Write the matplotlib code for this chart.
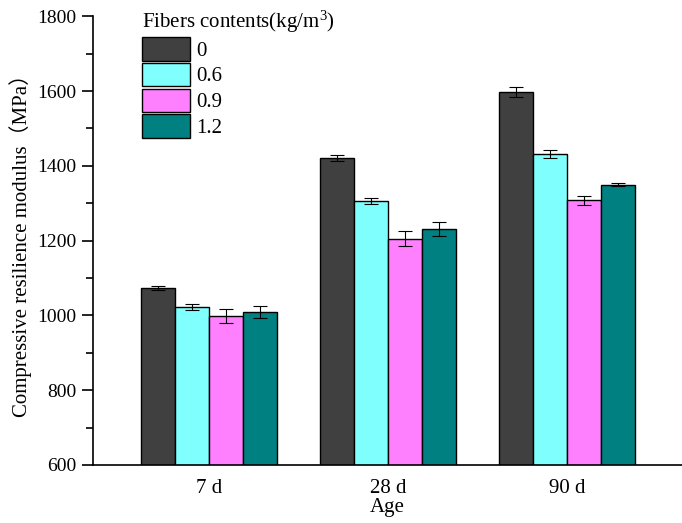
import numpy as np
import matplotlib.pyplot as plt
from matplotlib.ticker import MultipleLocator

ages = ["7 d", "28 d", "90 d"]
contents = ["0", "0.6", "0.9", "1.2"]
values = [
    [1073, 1420, 1597],
    [1022, 1305, 1432],
    [999, 1205, 1308],
    [1009, 1231, 1349],
]
errors = [
    [5, 8, 14],
    [8, 8, 10],
    [19, 20, 12],
    [15, 18, 4],
]
colors = ["#404040", "#80FFFF", "#FF80FF", "#008080"]

plt.rcParams['font.family'] = ['Liberation Serif', 'Noto Sans CJK SC']
plt.rcParams['font.size'] = 15
plt.rcParams['mathtext.fontset'] = 'custom'
plt.rcParams['mathtext.rm'] = 'Liberation Serif'

fig = plt.figure(figsize=(6.82, 5.23), dpi=100)
ax = fig.add_axes([0.136, 0.111, 0.864, 0.858])

x = np.arange(len(ages))
w = 0.19
for i in range(len(contents)):
    pos = x + (i - 1.5) * w
    ax.bar(pos, values[i], w, color=colors[i], edgecolor="black", linewidth=1,
           label=contents[i], zorder=2)
    ax.errorbar(pos, values[i], yerr=errors[i], fmt="none", ecolor="black",
                elinewidth=0.8, capsize=5, capthick=0.8, zorder=3)

ax.set_ylim(600, 1800)
ax.set_xlim(-0.65, 2.64)
ax.set_xticks(x)
ax.set_xticklabels(ages)
ax.yaxis.set_major_locator(MultipleLocator(200))
ax.yaxis.set_minor_locator(MultipleLocator(100))
ax.tick_params(axis="y", which="major", direction="out", length=8, width=1.2,
               labelsize=14)
ax.tick_params(axis="y", which="minor", direction="out", length=5, width=1.2)
ax.tick_params(axis="x", length=0, pad=10)
for s in ["top", "right"]:
    ax.spines[s].set_visible(False)
ax.spines["left"].set_linewidth(1.2)
ax.spines["bottom"].set_linewidth(1.2)

ax.set_ylabel("Compressive resilience modulus（MPa）", labelpad=4)
ax.set_xlabel("Age", labelpad=0)

ax.legend(title=r"Fibers contents(kg/m$\mathrm{^3}$)", loc="upper left",
          bbox_to_anchor=(0.07, 1.035), frameon=False, alignment="left",
          handlelength=2.3, handleheight=1.35, labelspacing=0.1,
          handletextpad=0.3, borderaxespad=0)

fig.savefig("out.png", dpi=100)
